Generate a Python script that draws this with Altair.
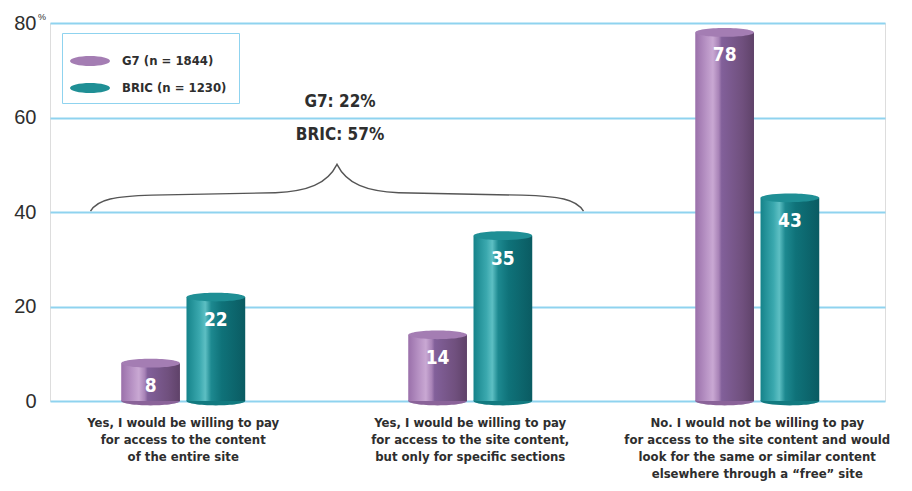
import altair as alt
import pandas as pd

# ---- data ----
categories = [
    "Yes, I would be willing to pay\nfor access to the content\nof the entire site",
    "Yes, I would be willing to pay\nfor access to the site content,\nbut only for specific sections",
    "No. I would not be willing to pay\nfor access to the site content and would\nlook for the same or similar content\nelsewhere through a \u201cfree\u201d site",
]
series = ["G7", "BRIC"]
sample_sizes = [1844, 1230]
g7_values = [8, 14, 78]
bric_values = [22, 35, 43]
y_ticks = [0, 20, 40, 60, 80]
note_lines = ["G7: 22%", "BRIC: 57%"]

rows = []
for s, vals in zip(series, [g7_values, bric_values]):
    for c, v in zip(categories, vals):
        rows.append({"category": c, "series": s, "value": v})
df = pd.DataFrame(rows)

# ---- styles ----
GRID = "#8fd3ef"
TEXT = "#2e2e2e"
NARROW = "DejaVu Sans Condensed, Roboto, Liberation Sans, sans-serif"
top_colors = ["#a47db3", "#1f8f95"]
bottom_colors = ["#8a6399", "#127a80"]

g7_grad = alt.Gradient(
    gradient="linear", x1=0, x2=1, y1=0, y2=0,
    stops=[
        alt.GradientStop(color="#9a70aa", offset=0),
        alt.GradientStop(color="#b792c4", offset=0.18),
        alt.GradientStop(color="#c9a8d3", offset=0.3),
        alt.GradientStop(color="#a883b7", offset=0.4),
        alt.GradientStop(color="#82609a", offset=0.45),
        alt.GradientStop(color="#70507e", offset=0.8),
        alt.GradientStop(color="#5f4269", offset=1),
    ],
)
bric_grad = alt.Gradient(
    gradient="linear", x1=0, x2=1, y1=0, y2=0,
    stops=[
        alt.GradientStop(color="#15838a", offset=0),
        alt.GradientStop(color="#3aa8ae", offset=0.22),
        alt.GradientStop(color="#5dbfc3", offset=0.32),
        alt.GradientStop(color="#1d8990", offset=0.42),
        alt.GradientStop(color="#0f7279", offset=0.6),
        alt.GradientStop(color="#0a5b62", offset=1),
    ],
)

k = 0.5523
r = 0.15
ellipse = (
    f"M -1 0 C -1 {-k*r:.4f} {-k:.4f} {-r} 0 {-r} "
    f"C {k:.4f} {-r} 1 {-k*r:.4f} 1 0 "
    f"C 1 {k*r:.4f} {k:.4f} {r} 0 {r} "
    f"C {-k:.4f} {r} -1 {k*r:.4f} -1 0 Z"
)
legend_ellipse = (
    "M -1 0 C -1 -0.14 -0.55 -0.25 0 -0.25 C 0.55 -0.25 1 -0.14 1 0 "
    "C 1 0.14 0.55 0.25 0 0.25 C -0.55 0.25 -1 0.14 -1 0 Z"
)
brace = (
    "M -1 0.09 C -0.97 0.04 -0.9 0.03 -0.75 0.025 "
    "L -0.25 0.015 C -0.12 0.01 -0.04 -0.02 0 -0.1 "
    "C 0.04 -0.02 0.12 0.01 0.25 0.015 "
    "L 0.75 0.025 C 0.9 0.03 0.97 0.04 1 0.09"
)

y_scale = alt.Scale(domain=[0, 80], nice=False, zero=True)

x_enc = alt.X(
    "category:N", sort=categories,
    scale=alt.Scale(domain=categories, paddingInner=0.568, paddingOuter=0.2386, align=0.52),
    axis=alt.Axis(
        title=None, domain=False, ticks=False, grid=False,
        labelAngle=0, labelExpr="split(datum.label, '\\n')",
        labelFont=NARROW, labelFontWeight="bold", labelFontSize=13,
        labelColor=TEXT, labelLineHeight=17, labelPadding=15, labelLimit=0,
        labelBaseline="top",
    ),
)
xo_enc = alt.XOffset(
    "series:N", sort=series,
    scale=alt.Scale(domain=series, paddingInner=0.1, paddingOuter=0),
)
y_enc = alt.Y(
    "value:Q",
    scale=y_scale,
    axis=alt.Axis(
        title=None, values=y_ticks, domain=False, ticks=False, grid=True,
        gridColor=GRID, gridWidth=2, labelFont="Liberation Sans",
        labelFontSize=20, labelColor=TEXT, labelPadding=14,
    ),
)

base = alt.Chart(df)

bottoms = base.mark_point(
    shape=ellipse, size=3430, filled=True, strokeWidth=0, opacity=1
).encode(
    x=x_enc, xOffset=xo_enc,
    y=alt.YDatum(0, scale=y_scale),
    color=alt.condition(alt.datum.series == series[0],
                        alt.value(bottom_colors[0]), alt.value(bottom_colors[1])),
)

bars_g7 = base.transform_filter(alt.datum.series == series[0]).mark_bar(
    color=g7_grad
).encode(x=x_enc, xOffset=xo_enc, y=y_enc)

bars_bric = base.transform_filter(alt.datum.series == series[1]).mark_bar(
    color=bric_grad
).encode(x=x_enc, xOffset=xo_enc, y=y_enc)

legend_labels = {s: f"{s}  (n = {n})" for s, n in zip(series, sample_sizes)}
label_expr = " : ".join(
    [f"datum.label == '{s}' ? '{legend_labels[s]}'" for s in series[:-1]]
    + [f"'{legend_labels[series[-1]]}'"]
)

tops = base.mark_point(
    shape=ellipse, size=3430, filled=True, strokeWidth=0, opacity=1
).encode(
    x=x_enc, xOffset=xo_enc, y=y_enc,
    color=alt.Color(
        "series:N",
        scale=alt.Scale(domain=series, range=top_colors),
        legend=alt.Legend(
            title=None, orient="none", legendX=12, legendY=10,
            symbolType=legend_ellipse, symbolSize=1600, symbolStrokeWidth=0,
            labelExpr=label_expr, labelFont=NARROW, labelFontWeight="bold",
            labelFontSize=13, labelColor=TEXT, labelOffset=12,
            strokeColor=GRID, padding=8, rowPadding=-5,
        ),
    ),
)

labels = base.mark_text(
    dy=23, color="white", font=NARROW, fontWeight="bold", fontSize=19, baseline="middle"
).encode(x=x_enc, xOffset=xo_enc, y=y_enc, text=alt.Text("value:Q"))

brace_mark = alt.Chart(pd.DataFrame({"a": [0]})).mark_point(
    shape=brace, size=243049, filled=False, stroke="#555555", strokeWidth=1.4, opacity=1
).encode(x=alt.value(287), y=alt.value(166))

notes = alt.Chart(pd.DataFrame({"a": [0]})).mark_text(
    font=NARROW, fontWeight="bold", fontSize=17, color=TEXT, baseline="middle",
    lineHeight=33,
).encode(
    x=alt.value(290),
    y=alt.value(79),
    text=alt.value(note_lines),
)

pct = alt.Chart(pd.DataFrame({"a": [0]})).mark_text(
    fontSize=9, color=TEXT, font="Liberation Sans", align="left"
).encode(x=alt.value(-12), y=alt.value(-6), text=alt.value("%"))

chart = alt.layer(
    bottoms, bars_g7, bars_bric, tops, labels, brace_mark, notes, pct
).properties(
    width=835, height=378,
    autosize=alt.AutoSizeParams(type="none"),
    padding={"left": 42, "top": 15, "right": 15, "bottom": 82},
).configure_view(stroke=None).configure(background="white")

chart.save("out.html", embed_options={"renderer": "svg", "actions": False})
